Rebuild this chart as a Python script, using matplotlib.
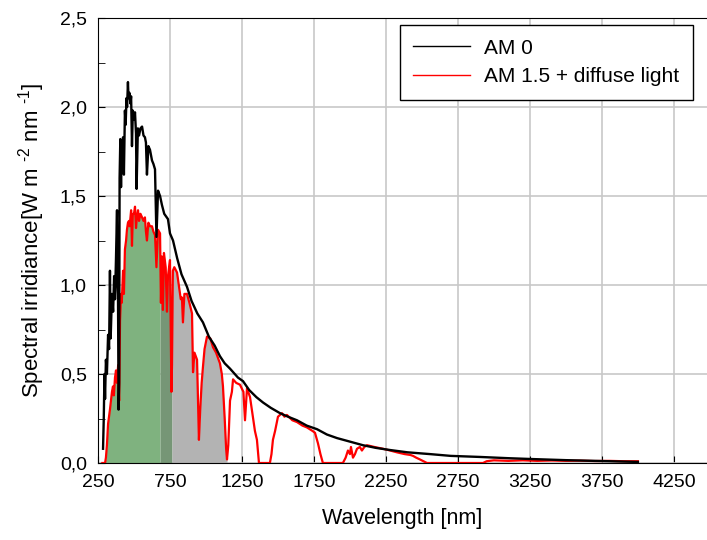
import matplotlib
import matplotlib.pyplot as plt
from matplotlib.ticker import MultipleLocator, FuncFormatter
import numpy as np
matplotlib.use('Agg')

# AM 0 spectrum
am0_wl = [285, 290, 295, 299, 305, 312, 320, 327, 333, 338, 347, 355, 362,
          368, 375, 382, 386, 389, 393, 397, 400, 405, 410, 415, 420, 424,
          430, 437, 442, 448, 452, 458, 462, 468, 475, 480, 486, 492, 500,
          507, 514, 518, 527, 535, 545, 556, 566, 576, 583, 590, 600, 611,
          625, 635, 646, 656, 667, 681, 694, 710, 736, 750, 771, 800, 830,
          868, 900, 940, 979, 1020, 1060, 1097, 1130, 1167, 1222, 1257, 1300,
          1350, 1396, 1450, 1514, 1570, 1632, 1700, 1771, 1840, 1910, 2000,
          2090, 2180, 2278, 2400, 2556, 2700, 2903, 3100, 3271, 3500, 3750,
          4000]
am0_irr = [0.08, 0.25, 0.50, 0.36, 0.58, 0.50, 0.72, 0.64, 1.08, 0.70, 0.95,
           0.85, 1.05, 0.92, 1.15, 1.42, 1.00, 0.93, 0.30, 0.45, 1.60, 1.82,
           1.55, 1.80, 1.75, 1.83, 1.62, 1.98, 1.90, 2.05, 2.00, 2.14, 2.05,
           2.08, 2.02, 2.06, 1.78, 1.98, 1.93, 1.97, 1.85, 1.54, 1.88, 1.84,
           1.88, 1.89, 1.84, 1.83, 1.80, 1.62, 1.78, 1.76, 1.70, 1.68, 1.65,
           1.27, 1.53, 1.50, 1.45, 1.40, 1.37, 1.29, 1.25, 1.15, 1.06, 0.99,
           0.91, 0.84, 0.79, 0.71, 0.66, 0.60, 0.56, 0.53, 0.48, 0.46, 0.41,
           0.37, 0.34, 0.31, 0.28, 0.26, 0.24, 0.21, 0.19, 0.16, 0.14, 0.12,
           0.10, 0.085, 0.073, 0.06, 0.05, 0.04, 0.034, 0.027, 0.022, 0.016,
           0.011, 0.006]

# AM 1.5 + diffuse light
am15_wl = [280, 299, 305, 312, 320, 333, 340, 347, 354, 360, 368, 375, 382,
           390, 393, 397, 403, 410, 415, 424, 430, 437, 445, 451, 458, 465,
           470, 480, 486, 492, 500, 507, 514, 520, 528, 535, 545, 556, 566,
           576, 583, 590, 600, 611, 625, 635, 646, 656, 667, 681, 687, 694,
           701, 708, 720, 729, 736, 750, 760, 764, 770, 780, 799, 815, 825,
           833, 840, 850, 868, 885, 903, 910, 920, 938, 951, 960, 970, 979,
           990, 1007, 1030, 1049, 1070, 1097, 1110, 1118, 1130, 1140, 1146,
           1155, 1167, 1180, 1188, 1210, 1236, 1260, 1271, 1285, 1306, 1326,
           1340, 1354, 1368, 1444, 1455, 1465, 1480, 1500, 1528, 1545, 1562,
           1600, 1632, 1670, 1701, 1740, 1757, 1778, 1795, 1812, 1951, 1970,
           1986, 2000, 2007, 2021, 2035, 2049, 2069, 2083, 2100, 2118, 2170,
           2229, 2280, 2326, 2380, 2420, 2438, 2460, 2486, 2535, 2924, 2950,
           3000, 3100, 3200, 3300, 3400, 3500, 3600, 3700, 3800, 3900, 4000]
am15_irr = [0.0, 0.0, 0.03, 0.10, 0.22, 0.30, 0.35, 0.40, 0.43, 0.38, 0.48,
            0.52, 0.45, 0.55, 0.42, 0.35, 0.80, 0.95, 0.90, 1.08, 0.95, 1.20,
            1.25, 1.31, 1.35, 1.36, 1.33, 1.42, 1.22, 1.40, 1.40, 1.44, 1.32,
            1.38, 1.42, 1.36, 1.40, 1.38, 1.36, 1.38, 1.30, 1.25, 1.35, 1.33,
            1.33, 1.30, 1.28, 1.10, 1.31, 1.29, 0.90, 1.16, 0.86, 1.18, 1.10,
            0.85, 1.05, 1.14, 0.40, 0.55, 1.08, 1.10, 1.07, 0.98, 0.92, 0.93,
            0.79, 0.95, 0.95, 0.90, 0.84, 0.51, 0.62, 0.58, 0.13, 0.30, 0.45,
            0.54, 0.64, 0.71, 0.70, 0.65, 0.62, 0.56, 0.50, 0.43, 0.25, 0.08,
            0.02, 0.10, 0.35, 0.40, 0.47, 0.45, 0.44, 0.40, 0.24, 0.42, 0.37,
            0.26, 0.18, 0.13, 0.0, 0.0, 0.05, 0.13, 0.18, 0.26, 0.28, 0.26,
            0.27, 0.24, 0.23, 0.21, 0.20, 0.18, 0.17, 0.11, 0.05, 0.0, 0.0,
            0.03, 0.07, 0.05, 0.09, 0.03, 0.05, 0.08, 0.09, 0.07, 0.09, 0.10,
            0.09, 0.08, 0.07, 0.06, 0.05, 0.045, 0.04, 0.03, 0.02, 0.0, 0.0,
            0.01, 0.015, 0.012, 0.015, 0.012, 0.014, 0.012, 0.013, 0.011,
            0.012, 0.010, 0.010]

x_ticks = [250, 750, 1250, 1750, 2250, 2750, 3250, 3750, 4250]


def main():
    plt.rcParams['font.family'] = ['Liberation Sans', 'DejaVu Sans']
    plt.rcParams['mathtext.fontset'] = 'custom'
    plt.rcParams['mathtext.rm'] = 'Liberation Sans'
    plt.rcParams['mathtext.it'] = 'Liberation Sans'

    fig = plt.figure(figsize=(7.07, 5.4), dpi=100)
    ax = fig.add_axes([98 / 707, 77 / 540, 609 / 707, 445 / 540])

    wl = np.array(am15_wl)
    irr = np.array(am15_irr)
    ax.fill_between(wl, 0, irr, where=(wl >= 280) & (wl <= 681),
                    color='#7fb27f', lw=0, zorder=1)
    ax.fill_between(wl, 0, irr, where=(wl >= 681) & (wl <= 764),
                    color='#769676', lw=0, zorder=1)
    ax.fill_between(wl, 0, irr, where=(wl >= 764) & (wl <= 1146),
                    color='#b3b3b3', lw=0, zorder=1)

    ax.plot(am0_wl, am0_irr, color='black', lw=1.7, label='AM 0', zorder=3)
    ax.plot(am15_wl, am15_irr, color='red', lw=1.6,
            label='AM 1.5 + diffuse light', zorder=2)

    ax.set_xlim(250, 4480)
    ax.set_ylim(0, 2.5)
    ax.set_xticks(x_ticks)
    ax.yaxis.set_major_locator(MultipleLocator(0.5))
    ax.yaxis.set_minor_locator(MultipleLocator(0.25))
    ax.yaxis.set_major_formatter(FuncFormatter(
        lambda v, p: ('%.1f' % v).replace('.', ',')))
    ax.tick_params(which='both', direction='in', labelsize=14, pad=8)
    ax.tick_params(which='major', length=5)
    ax.tick_params(which='minor', length=5)
    ax.grid(True, which='major', color='#c8c8c8', lw=1.2, zorder=0)
    ax.set_axisbelow(True)
    ax.spines['right'].set_visible(False)

    ax.set_xlabel('Wavelength [nm]', fontsize=15.5, labelpad=12)
    ax.set_ylabel(r'Spectral irridiance[W m $^{\text{-2}}$ nm $^{\text{-1}}$]',
                  fontsize=16, labelpad=9)

    leg = ax.legend(loc='upper right', bbox_to_anchor=(0.977, 0.984),
                    borderaxespad=0, fontsize=15, fancybox=False,
                    edgecolor='black', framealpha=1, handlelength=2.7,
                    handletextpad=0.7, borderpad=0.65, labelspacing=0.45)
    leg.get_frame().set_linewidth(1.0)
    for line in leg.get_lines():
        line.set_linewidth(1.0)

    plt.savefig("out.png", dpi=100)


if __name__ == "__main__":
    main()
